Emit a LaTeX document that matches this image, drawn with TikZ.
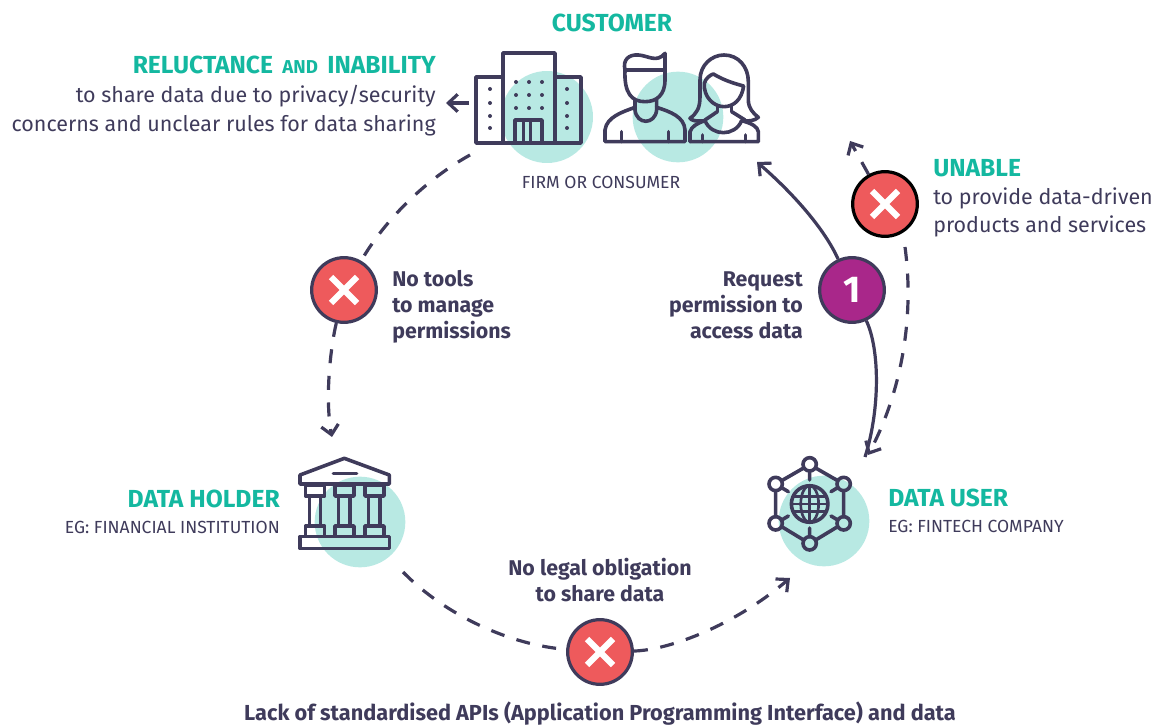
\documentclass[tikz,border=0pt]{standalone}
\usepackage{fontspec}
\setmainfont{Fira Sans}
\usetikzlibrary{arrows.meta}
\definecolor{ink}{HTML}{3F3B5B}
\definecolor{tealtxt}{HTML}{14B8A0}
\definecolor{tealbg}{HTML}{B8E9E3}
\definecolor{redx}{HTML}{EE5A5C}
\definecolor{purp}{HTML}{A9278A}
\tikzset{
  bg/.style={circle,fill=tealbg,minimum size=#1,inner sep=0pt,draw=none},
  icon/.style={draw=ink,line width=2.7pt,line join=round,line cap=round},
  conn/.style={draw=ink,line width=2.4pt,line cap=butt},
  dashc/.style={conn,dash pattern=on 10.5pt off 9.5pt},
  tip/.style={-{Straight Barb[length=7pt,width=13pt,line width=2.4pt]}},
  xmark/.style={circle,fill=redx,draw=ink,line width=2.4pt,minimum size=48.5pt,inner sep=0pt},
  heading/.style={text=tealtxt,font=\fontsize{18.5}{20}\selectfont\bfseries,inner sep=0pt},
  body/.style={text=ink,font=\fontsize{16.1}{21.5}\selectfont,inner sep=0pt},
  small/.style={text=ink,font=\fontsize{13.15}{15}\selectfont,inner sep=0pt},
  strong/.style={text=ink,font=\fontsize{16}{19.5}\selectfont\bfseries,inner sep=0pt},
}
\newcommand{\crossmark}[1]{%
  \draw[white,line width=4.6pt] ([shift={(-13,-13)}]#1.center) -- ([shift={(13,13)}]#1.center)
    ([shift={(-13,13)}]#1.center) -- ([shift={(13,-13)}]#1.center);}
\begin{document}
\begin{tikzpicture}[x=0.75pt,y=-0.75pt]
\useasboundingbox (0,0) rectangle (1158,727);
% backgrounds
\node[bg=69pt] (bg1) at (547,117) {};
\node[bg=68pt] (bg2) at (678,117) {};
\node[bg=68pt] (bg3) at (360,522) {};
\node[bg=68pt] (bg4) at (824,521) {};
% building
\begin{scope}[icon]
\draw (476,143) rectangle (503,77);
\draw (503,143) rectangle (555,53);
\draw (555,143) rectangle (581,77);
\draw (515,143) -- (515,120) -- (542,120) -- (542,143);
\draw (523.5,120) -- (523.5,143) (530.5,120) -- (530.5,143);
\end{scope}
\foreach \p in {(490,89),(490,103),(490,116),(490,128),(567,89),(567,103),(567,116),(567,128),
  (516,82),(529,82),(542,82),(516,95),(529,95),(542,95),(516,108),(529,108),(542,108)}
  \fill[ink] \p circle (1.5pt);
% people
\begin{scope}[shift={(440,0)},x=0.25pt,y=-0.25pt,icon]
% man
\draw (555,210) .. controls (548,180) and (565,163) .. (595,165) .. controls (625,167) and (650,190) .. (675,160)
  -- (675,240) .. controls (675,285) and (650,305) .. (615,305) .. controls (575,305) and (552,280) .. (555,210) -- cycle;
\draw (555,210) -- (672,210);
\draw (585,300) -- (585,330) .. controls (590,375) and (645,375) .. (650,330) -- (650,298);
\draw (585,322) .. controls (550,335) and (500,350) .. (495,390) -- (495,425) -- (735,425) -- (735,390) .. controls (733,350) and (690,335) .. (650,322);
\draw (545,395) -- (545,425) (685,395) -- (685,425);
% woman
\draw (795,362) .. controls (770,365) and (755,362) .. (750,355) .. controls (770,340) and (780,325) .. (780,290)
  -- (780,240) .. controls (780,195) and (815,165) .. (852,165) .. controls (895,165) and (925,200) .. (925,245)
  -- (925,300) .. controls (925,325) and (940,340) .. (955,352) .. controls (945,362) and (925,365) .. (905,362);
\draw (793,250) .. controls (797,235) and (810,225) .. (820,222) .. controls (850,240) and (880,250) .. (911,258)
 .. controls (905,300) and (880,320) .. (852,320) .. controls (820,320) and (790,290) .. (793,250) -- cycle;
\draw (832,318) -- (832,335) (875,318) -- (875,335);
\draw (795,362) .. controls (815,410) and (885,410) .. (905,362);
\draw (832,335) -- (795,360) (875,335) -- (915,360);
\draw (750,425) -- (750,395) .. controls (755,380) and (770,370) .. (795,362);
\draw (905,362) .. controls (935,370) and (953,380) .. (955,395) -- (955,425) -- (750,425);
\draw (787,405) -- (787,425) (917,405) -- (917,425);
\end{scope}
% bank
\begin{scope}[shift={(280,440)},x=0.25pt,y=-0.25pt,icon]
\draw (60,132) -- (60,105) -- (193,55) -- (328,105) -- (328,132) -- cycle;
\draw (160,100) -- (230,100);
\foreach \a in {77,165,255}{
  \draw (\a,135) rectangle ++(57,33);
  \draw (\a,258) rectangle ++(57,32);
  \draw (\a+11,168) -- (\a+11,258) (\a+45,168) -- (\a+45,258);
}
\draw (60,290) rectangle (328,325);
\end{scope}
% network
\begin{scope}[shift={(750,440)},x=0.25pt,y=-0.25pt,icon]
\foreach \q in {(179,73),(281,132),(281,250),(179,310),(77,250),(77,132)}
  \draw \q circle (5pt);
\draw (197,84) -- (263,122) (281,152) -- (281,230) (263,260) -- (197,300)
  (161,300) -- (95,260) (77,230) -- (77,152) (95,122) -- (161,84);
\draw (179,93) -- (179,120) (179,264) -- (179,290)
  (263,143) -- (243,155) (263,240) -- (243,228) (95,240) -- (115,228) (95,143) -- (115,155);
\draw (179,192) circle (13.7pt);
\begin{scope}[line width=2pt]
\draw (179,192) ellipse (6.7pt and 13.7pt);
\draw (179,137) -- (179,247) (124,192) -- (234,192) (133,170) -- (225,170) (133,214) -- (225,214);
\end{scope}
\end{scope}
% nodes with marks
\node[xmark] (xa) at (344,290) {};
\node[xmark] (xb) at (600,652) {};
\node[xmark,draw=black] (xc) at (885,204) {};
\node[circle,fill=purp,draw=ink,line width=2.4pt,minimum size=48.5pt,inner sep=0pt,text=white,font=\fontsize{28}{30}\selectfont\bfseries] (one) at (852,290) {1};
\crossmark{xa}\crossmark{xb}\crossmark{xc}
% free ends
\coordinate (customerin) at (757,162);
\coordinate (userin) at (865,457);
\coordinate (leftarrowstart) at (469,103);
\coordinate (leftarrowend) at (446,103);
\coordinate (topleft) at (470,155);
\coordinate (holderin) at (332,437);
\coordinate (holderout) at (403,572);
\coordinate (userinb) at (790,578);
\coordinate (xctop) at (850,141);
\coordinate (xcbelow) at (905,247);
% connectors
\draw[conn,tip] (leftarrowstart) -- (leftarrowend);
\draw[conn,tip] (one) .. controls (825,230) and (795,195) .. (customerin);
\draw[conn] (one) .. controls (880,350) and (880,410) .. (userin);
\draw[dashc] (topleft) .. controls (425,180) and (385,220) .. (xa);
\draw[dashc,tip] (xa) .. controls (330,350) and (325,400) .. (holderin);
\draw[dashc] (holderout) .. controls (445,615) and (510,645) .. (xb);
\draw[dashc,tip] (xb) .. controls (670,650) and (735,625) .. (userinb);
\draw[dashc,tip] (xc) -- (xctop);
\draw[dashc,tip] (xcbelow) .. controls (915,320) and (900,395) .. (868,455);
% text
\node[heading] (tcustomer) at (612,23) {CUSTOMER};
\node[small] (tfirm) at (601,182) {FIRM OR CONSUMER};
\node[heading,anchor=east] (treluct) at (436,65) {RELUCTANCE {\fontsize{14}{15}\selectfont\hspace{2.6pt}AND\hspace{2.6pt}} INABILITY};
\node[body,anchor=north east,align=right] (trelbody) at (436,85) {to share data due to privacy/security\\concerns and unclear rules for data sharing};
\node[heading,anchor=west] (tunable) at (933,168) {UNABLE};
\node[body,anchor=north west,align=left] (tunbody) at (933,187) {to provide data-driven\\products and services};
\node[strong,anchor=north west,align=left] (ttools) at (392,270) {No tools\\to manage\\permissions};
\node[strong,anchor=north east,align=right] (treq) at (803,271) {Request\\permission to\\access data};
\node[heading,anchor=east] (tholder) at (280,499) {DATA HOLDER};
\node[small,anchor=east] (tholders) at (280,527) {EG: FINANCIAL INSTITUTION};
\node[heading,anchor=west] (tuser) at (888,498) {DATA USER};
\node[small,anchor=west] (tusers) at (888,526) {EG: FINTECH COMPANY};
\node[strong,align=center] (tlegal) at (600,580) {No legal obligation\\to share data};
\node[strong] (tlack) at (600,714) {\fontsize{16.3}{19.5}\selectfont Lack of standardised APIs (Application Programming Interface) and data};
\end{tikzpicture}
\end{document}
